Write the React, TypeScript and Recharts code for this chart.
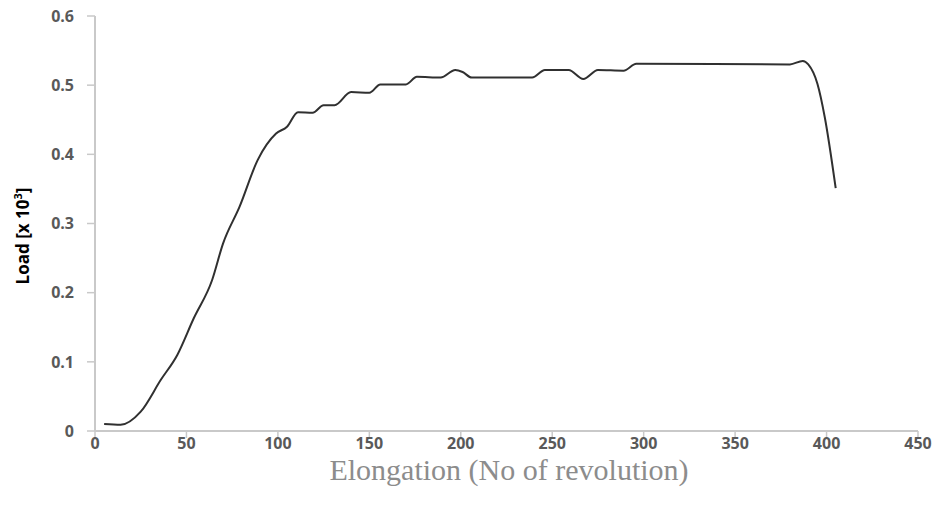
import { LineChart, Line, XAxis, YAxis } from 'recharts'

// Elongation (revolutions) vs load (x 10^3)
const elongation = [5, 14, 25, 36, 45, 54, 64, 70, 79, 89, 99, 105, 111, 119, 125, 131, 140, 150, 156, 170, 176, 189, 197, 201, 206, 239, 246, 259, 267, 275, 289, 296, 380, 387, 390, 395, 399, 405]
const load = [0.01, 0.009, 0.028, 0.074, 0.11, 0.163, 0.218, 0.271, 0.324, 0.392, 0.43, 0.44, 0.461, 0.46, 0.471, 0.471, 0.49, 0.489, 0.501, 0.501, 0.512, 0.511, 0.522, 0.519, 0.511, 0.511, 0.522, 0.522, 0.509, 0.522, 0.521, 0.531, 0.530, 0.535, 0.530, 0.502, 0.454, 0.351]

const xTicks = [0, 50, 100, 150, 200, 250, 300, 350, 400, 450]
const yTicks = [0, 0.1, 0.2, 0.3, 0.4, 0.5, 0.6]

const AXIS = '#c9c9c9'
const LINE = '#303030'
const TICK_TXT = '#595959'

const data = elongation.map((x, i) => ({ x, load: load[i] }))

export default function App() {
  return (
    <div style={{ position: 'absolute', left: 0, top: 0, width: 940, height: 506, background: '#fff' }}>
      <LineChart width={940} height={506} data={data}
        margin={{ top: 16, right: 22, left: 35, bottom: 45 }}>
        <XAxis type="number" dataKey="x" domain={[0, 450]} ticks={xTicks}
          height={30} tickSize={7} tickMargin={0}
          axisLine={{ stroke: AXIS, strokeWidth: 2 }} tickLine={{ stroke: AXIS, strokeWidth: 1.5 }}
          tick={{ fill: TICK_TXT, fontSize: 16, fontWeight: 700, fontFamily: "'Liberation Sans Narrow', 'Open Sans', sans-serif" }} />
        <YAxis type="number" domain={[0, 0.6]} ticks={yTicks} width={60}
          tickSize={8} tickMargin={13}
          tickFormatter={(v: number) => (v === 0 ? '0' : v.toFixed(1))}
          axisLine={{ stroke: AXIS, strokeWidth: 2 }} tickLine={{ stroke: AXIS, strokeWidth: 1.5 }}
          tick={{ fill: TICK_TXT, fontSize: 16, fontWeight: 700, fontFamily: "'Open Sans', sans-serif" }} />
        <Line type="monotone" dataKey="load" stroke={LINE} strokeWidth={2}
          dot={false} isAnimationActive={false} />
      </LineChart>

      {/* axis titles */}
      <div style={{
        position: 'absolute', left: 22, top: 236, transform: 'translate(-50%, -50%) rotate(-90deg)',
        whiteSpace: 'nowrap', fontFamily: "'Open Sans', sans-serif", fontWeight: 700, fontSize: 17, color: '#000',
      }}>
        Load [x 10<sup style={{ fontSize: 11 }}>3</sup>]
      </div>
      <div style={{
        position: 'absolute', left: 509, top: 470, transform: 'translate(-50%, -50%)',
        whiteSpace: 'nowrap', fontFamily: "'Liberation Serif', serif", fontSize: 30, color: '#8c8c8c',
      }}>
        Elongation (No of revolution)
      </div>
    </div>
  )
}
